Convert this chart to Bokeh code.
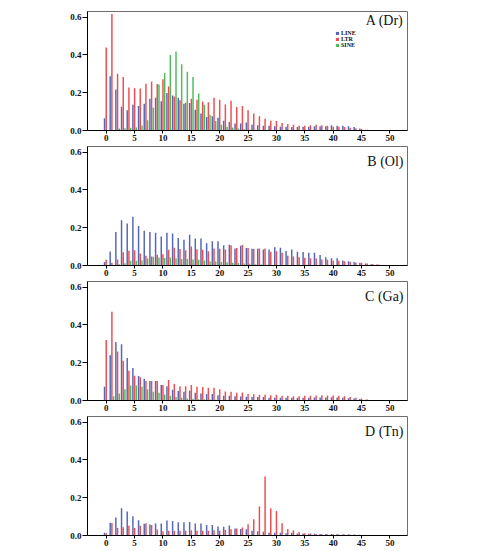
from bokeh.plotting import figure
from bokeh.layouts import column
from bokeh.models import (Range1d, FixedTicker, Label, Legend, LegendItem,
                          ColumnDataSource, NumeralTickFormatter)
from bokeh.embed import file_html
from bokeh.resources import INLINE
import numpy as np

# ---- data: relative frequency by element age class (0..50) ----
AGE = list(range(51))
X_TICKS = [0, 5, 10, 15, 20, 25, 30, 35, 40, 45, 50]
Y_TICKS = [0.0, 0.2, 0.4, 0.6]
SERIES = ["LINE", "LTR", "SINE"]
COLORS = ["#4357ad", "#ec3a3e", "#3cb44b"]
PANEL_TITLES = ["A (Dr)", "B (Ol)", "C (Ga)", "D (Tn)"]

DR_LINE = [0.065, 0.287, 0.217, 0.126, 0.107, 0.136, 0.130, 0.142, 0.168, 0.173,
           0.155, 0.198, 0.185, 0.173, 0.142, 0.145, 0.110, 0.090, 0.072, 0.075,
           0.068, 0.052, 0.045, 0.037, 0.037, 0.042, 0.030, 0.028, 0.025, 0.025,
           0.022, 0.020, 0.020, 0.018, 0.018, 0.020, 0.020, 0.022, 0.022, 0.022,
           0.028, 0.025, 0.025, 0.022, 0.018, 0.010, 0.004, 0.002, 0.001, 0.0, 0.0]
DR_LTR = [0.440, 0.617, 0.300, 0.283, 0.227, 0.224, 0.222, 0.248, 0.259, 0.246,
          0.271, 0.233, 0.180, 0.160, 0.147, 0.168, 0.163, 0.154, 0.150, 0.173,
          0.163, 0.138, 0.157, 0.124, 0.130, 0.107, 0.090, 0.075, 0.062, 0.052,
          0.050, 0.040, 0.035, 0.030, 0.025, 0.025, 0.028, 0.030, 0.028, 0.025,
          0.020, 0.020, 0.018, 0.015, 0.012, 0.008, 0.004, 0.002, 0.001, 0.0, 0.0]
DR_SINE = [0.0, 0.003, 0.010, 0.012, 0.014, 0.016, 0.026, 0.054, 0.120, 0.243,
           0.304, 0.400, 0.418, 0.351, 0.311, 0.283, 0.196, 0.136, 0.084, 0.050,
           0.030, 0.020, 0.016, 0.010, 0.008, 0.005, 0.004, 0.003, 0.002, 0.002,
           0.001, 0.0, 0.0, 0.0, 0.0, 0.0, 0.0, 0.0, 0.0, 0.0,
           0.0, 0.0, 0.0, 0.0, 0.0, 0.0, 0.0, 0.0, 0.0, 0.0, 0.0]

OL_LINE = [0.018, 0.074, 0.177, 0.240, 0.223, 0.258, 0.209, 0.184, 0.177, 0.173,
           0.154, 0.173, 0.170, 0.145, 0.136, 0.163, 0.143, 0.143, 0.118, 0.128,
           0.128, 0.107, 0.110, 0.090, 0.105, 0.092, 0.089, 0.089, 0.085, 0.085,
           0.097, 0.094, 0.077, 0.085, 0.073, 0.071, 0.068, 0.068, 0.055, 0.044,
           0.039, 0.039, 0.027, 0.023, 0.018, 0.014, 0.010, 0.007, 0.005, 0.002, 0.0]
OL_LTR = [0.030, 0.014, 0.032, 0.070, 0.078, 0.081, 0.064, 0.051, 0.048, 0.057,
          0.060, 0.083, 0.094, 0.087, 0.081, 0.100, 0.086, 0.083, 0.075, 0.090,
          0.089, 0.085, 0.107, 0.092, 0.108, 0.092, 0.089, 0.090, 0.090, 0.073,
          0.075, 0.068, 0.052, 0.048, 0.044, 0.041, 0.039, 0.037, 0.032, 0.030,
          0.027, 0.025, 0.023, 0.020, 0.016, 0.014, 0.010, 0.008, 0.005, 0.002, 0.0]
OL_SINE = [0.0, 0.003, 0.006, 0.012, 0.025, 0.025, 0.028, 0.037, 0.046, 0.042,
           0.040, 0.042, 0.039, 0.035, 0.034, 0.032, 0.030, 0.027, 0.023, 0.021,
           0.019, 0.017, 0.015, 0.013, 0.011, 0.009, 0.007, 0.005, 0.004, 0.003,
           0.002, 0.0, 0.0, 0.0, 0.0, 0.0, 0.0, 0.0, 0.0, 0.0,
           0.0, 0.0, 0.0, 0.0, 0.0, 0.0, 0.0, 0.0, 0.0, 0.0, 0.0]

GA_LINE = [0.073, 0.240, 0.310, 0.298, 0.225, 0.172, 0.130, 0.115, 0.103, 0.103,
           0.082, 0.075, 0.057, 0.050, 0.046, 0.052, 0.041, 0.037, 0.034, 0.034,
           0.028, 0.025, 0.025, 0.023, 0.021, 0.020, 0.018, 0.018, 0.018, 0.015,
           0.015, 0.015, 0.015, 0.014, 0.014, 0.014, 0.015, 0.016, 0.016, 0.016,
           0.017, 0.016, 0.014, 0.012, 0.010, 0.008, 0.004, 0.002, 0.001, 0.0, 0.0]
GA_LTR = [0.320, 0.470, 0.260, 0.210, 0.158, 0.131, 0.123, 0.103, 0.103, 0.103,
          0.082, 0.108, 0.087, 0.076, 0.076, 0.082, 0.073, 0.071, 0.067, 0.067,
          0.060, 0.048, 0.046, 0.041, 0.043, 0.034, 0.033, 0.030, 0.030, 0.028,
          0.030, 0.025, 0.025, 0.023, 0.023, 0.025, 0.025, 0.027, 0.028, 0.027,
          0.027, 0.025, 0.022, 0.018, 0.014, 0.010, 0.005, 0.002, 0.001, 0.0, 0.0]
GA_SINE = [0.0, 0.023, 0.037, 0.060, 0.080, 0.080, 0.073, 0.059, 0.046, 0.041,
           0.032, 0.025, 0.018, 0.014, 0.011, 0.009, 0.007, 0.006, 0.005, 0.004,
           0.003, 0.002, 0.002, 0.001, 0.001, 0.0, 0.0, 0.0, 0.0, 0.0,
           0.0, 0.0, 0.0, 0.0, 0.0, 0.0, 0.0, 0.0, 0.0, 0.0,
           0.0, 0.0, 0.0, 0.0, 0.0, 0.0, 0.0, 0.0, 0.0, 0.0, 0.0]

TN_LINE = [0.014, 0.068, 0.095, 0.144, 0.127, 0.102, 0.081, 0.062, 0.058, 0.063,
           0.063, 0.079, 0.077, 0.070, 0.070, 0.072, 0.063, 0.063, 0.056, 0.056,
           0.048, 0.046, 0.053, 0.037, 0.035, 0.033, 0.025, 0.022, 0.020, 0.015,
           0.015, 0.015, 0.012, 0.014, 0.010, 0.010, 0.009, 0.009, 0.008, 0.008,
           0.008, 0.007, 0.007, 0.006, 0.005, 0.004, 0.002, 0.001, 0.0, 0.0, 0.0]
TN_LTR = [0.012, 0.066, 0.040, 0.044, 0.051, 0.040, 0.051, 0.065, 0.056, 0.032,
          0.022, 0.025, 0.025, 0.025, 0.025, 0.028, 0.025, 0.025, 0.025, 0.028,
          0.025, 0.030, 0.033, 0.037, 0.042, 0.060, 0.086, 0.153, 0.313, 0.144,
          0.130, 0.065, 0.033, 0.028, 0.018, 0.012, 0.010, 0.008, 0.007, 0.006,
          0.006, 0.005, 0.005, 0.004, 0.003, 0.002, 0.001, 0.0, 0.0, 0.0, 0.0]
TN_SINE = [0.0, 0.0, 0.0, 0.0, 0.0, 0.0, 0.0, 0.0, 0.0, 0.0,
           0.0, 0.0, 0.0, 0.0, 0.0, 0.0, 0.0, 0.0, 0.0, 0.0,
           0.0, 0.0, 0.0, 0.0, 0.0, 0.0, 0.0, 0.0, 0.0, 0.0,
           0.0, 0.0, 0.0, 0.0, 0.0, 0.0, 0.0, 0.0, 0.0, 0.0,
           0.0, 0.0, 0.0, 0.0, 0.0, 0.0, 0.0, 0.0, 0.0, 0.0, 0.0]

PANEL_DATA = [
    (DR_LINE, DR_LTR, DR_SINE),
    (OL_LINE, OL_LTR, OL_SINE),
    (GA_LINE, GA_LTR, GA_SINE),
    (TN_LINE, TN_LTR, TN_SINE),
]

# ---- layout constants ----
WIDTH = 478
FRAME_H = 119
BORDER_LEFT, BORDER_RIGHT = 87, 71
TOP_BORDERS = [11, 0, 0, 0]
BOTTOM_BORDER = 16
OFFSETS = [-0.3, 0.0, 0.3]
BAR_W = 0.26
SERIF = "Liberation Serif"


def make_panel(idx):
    top = TOP_BORDERS[idx]
    p = figure(width=WIDTH, height=top + FRAME_H + BOTTOM_BORDER,
               x_range=Range1d(-3.3, 53.1), y_range=Range1d(0, 0.63),
               output_backend="svg", toolbar_location=None,
               min_border_left=BORDER_LEFT, min_border_right=BORDER_RIGHT,
               min_border_top=top, min_border_bottom=BOTTOM_BORDER)
    p.xgrid.grid_line_color = None
    p.ygrid.grid_line_color = None
    p.outline_line_color = "#6e6e6e"
    p.outline_line_width = 1
    p.background_fill_color = "white"
    p.border_fill_color = "white"

    # grouped bars: LINE / LTR / SINE side by side at each age class
    age = np.array(AGE, dtype=float)
    renderers = []
    for vals, off, color in zip(PANEL_DATA[idx], OFFSETS, COLORS):
        src = ColumnDataSource(dict(x=age + off, top=vals))
        r = p.vbar(x="x", top="top", bottom=0, width=BAR_W, source=src,
                   fill_color=color, line_color=None, fill_alpha=0.9)
        renderers.append(r)

    # axes
    p.xaxis.ticker = FixedTicker(ticks=X_TICKS)
    p.yaxis.ticker = FixedTicker(ticks=Y_TICKS)
    p.yaxis.formatter = NumeralTickFormatter(format="0.0")
    for ax in (p.xaxis[0], p.yaxis[0]):
        ax.axis_line_color = "black"
        ax.axis_line_width = 1
        ax.major_tick_line_color = "black"
        ax.major_tick_in = 0
        ax.minor_tick_line_color = None
        ax.major_label_text_font = SERIF
        ax.major_label_text_font_style = "bold"
        ax.major_label_text_font_size = "9px"
        ax.major_label_text_color = "#111111"
    p.xaxis.major_tick_out = 3
    p.xaxis.major_label_standoff = 1
    p.yaxis.major_tick_out = 5
    p.yaxis.major_label_standoff = 1

    # panel title in the upper right corner
    ty = 0.622 if idx == 0 else 0.590
    p.add_layout(Label(x=52.4, y=ty, text=PANEL_TITLES[idx],
                       text_align="right", text_baseline="top",
                       text_font=SERIF, text_font_size="14px",
                       text_color="#111111"))

    if idx == 0:
        legend = Legend(
            items=[LegendItem(label=s, renderers=[r]) for s, r in zip(SERIES, renderers)],
            location=(248, 82), padding=0, margin=0, spacing=0,
            glyph_width=4, glyph_height=4, label_height=6, label_standoff=2,
            label_text_font=SERIF, label_text_font_style="bold",
            label_text_font_size="6px", label_text_color="#111111",
            background_fill_alpha=0, border_line_alpha=0)
        p.add_layout(legend)
    return p


panels = [make_panel(i) for i in range(4)]
layout = column(*panels, spacing=0)

open("out.html", "w").write(file_html(layout, INLINE))
